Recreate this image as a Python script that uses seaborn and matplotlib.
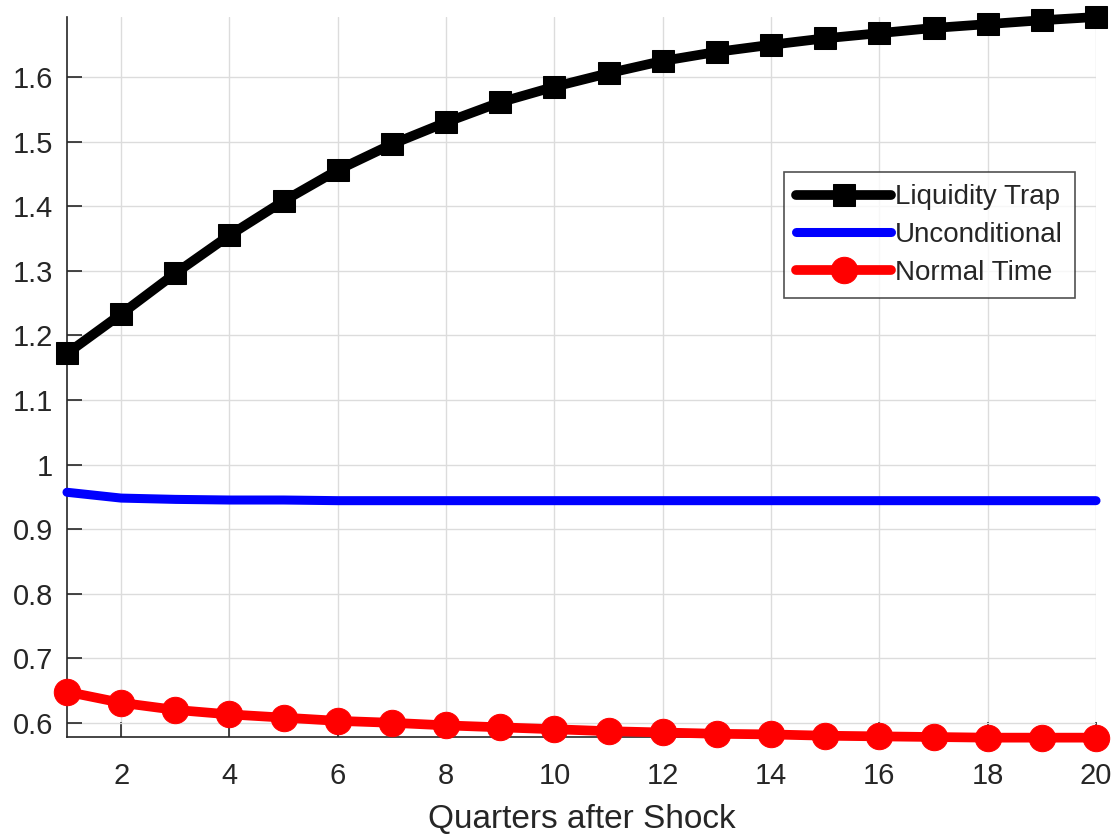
import pandas as pd
import seaborn as sns
import matplotlib.pyplot as plt

# values
quarters = list(range(1, 21))
liquidity_trap = [1.172, 1.233, 1.296, 1.355, 1.408, 1.456, 1.496, 1.530, 1.561, 1.585,
                  1.606, 1.625, 1.639, 1.650, 1.660, 1.668, 1.676, 1.682, 1.688, 1.693]
unconditional = [0.957, 0.948, 0.946, 0.945, 0.945, 0.944, 0.944, 0.944, 0.944, 0.944,
                 0.944, 0.944, 0.944, 0.944, 0.944, 0.944, 0.944, 0.944, 0.944, 0.944]
normal_time = [0.648, 0.631, 0.620, 0.613, 0.608, 0.603, 0.600, 0.596, 0.593, 0.590,
               0.587, 0.585, 0.583, 0.582, 0.580, 0.579, 0.578, 0.577, 0.577, 0.577]
x_ticks = [2, 4, 6, 8, 10, 12, 14, 16, 18, 20]
y_ticks = [0.6, 0.7, 0.8, 0.9, 1.0, 1.1, 1.2, 1.3, 1.4, 1.5, 1.6]
y_tick_labels = ['0.6', '0.7', '0.8', '0.9', '1', '1.1', '1.2', '1.3', '1.4', '1.5', '1.6']

sns.set_style('white')
plt.rcParams['font.family'] = ['Liberation Sans', 'DejaVu Sans']

fig = plt.figure(figsize=(11.2, 8.34), dpi=100)
ax = fig.add_axes([0.0598, 0.1163, 0.9188, 0.8633])

# one call per series so each gets its own marker
sns.lineplot(x=quarters, y=liquidity_trap, ax=ax, color='black', linewidth=7,
             marker='s', markersize=16, markeredgecolor='black', label='Liquidity Trap',
             clip_on=False, zorder=3)
sns.lineplot(x=quarters, y=unconditional, ax=ax, color='#0000ff', linewidth=6.5,
             label='Unconditional', clip_on=False, zorder=3)
sns.lineplot(x=quarters, y=normal_time, ax=ax, color='#ff0000', linewidth=7,
             marker='o', markersize=19, markeredgecolor='#ff0000', label='Normal Time',
             clip_on=False, zorder=3)

ax.set_xlim(1, 20)
ax.set_ylim(0.578, 1.693)
ax.set_xticks(x_ticks)
ax.set_yticks(y_ticks)
ax.set_yticklabels(y_tick_labels)
ax.tick_params(axis='both', which='major', bottom=True, left=True, direction='in',
               length=11, width=1.2, colors='#262626', labelsize=21)
ax.tick_params(axis='x', pad=18)
ax.tick_params(axis='y', pad=10)
ax.set_xlabel('Quarters after Shock', fontsize=24, color='#262626', labelpad=10)

ax.grid(True, color='#dcdcdc', linewidth=1)
ax.set_axisbelow(True)
for side in ['top', 'right']:
    ax.spines[side].set_visible(False)
for side in ['left', 'bottom']:
    ax.spines[side].set_color('#262626')
    ax.spines[side].set_linewidth(1.2)

leg = ax.legend(loc='upper right', bbox_to_anchor=(0.98, 0.785), fontsize=20,
                handlelength=3.4, frameon=True, fancybox=False, borderpad=0.45,
                labelspacing=0.42, handletextpad=0.15, borderaxespad=0)
leg.get_frame().set_edgecolor('#262626')
leg.get_frame().set_linewidth(1.2)

plt.savefig('out.png', dpi=100)
